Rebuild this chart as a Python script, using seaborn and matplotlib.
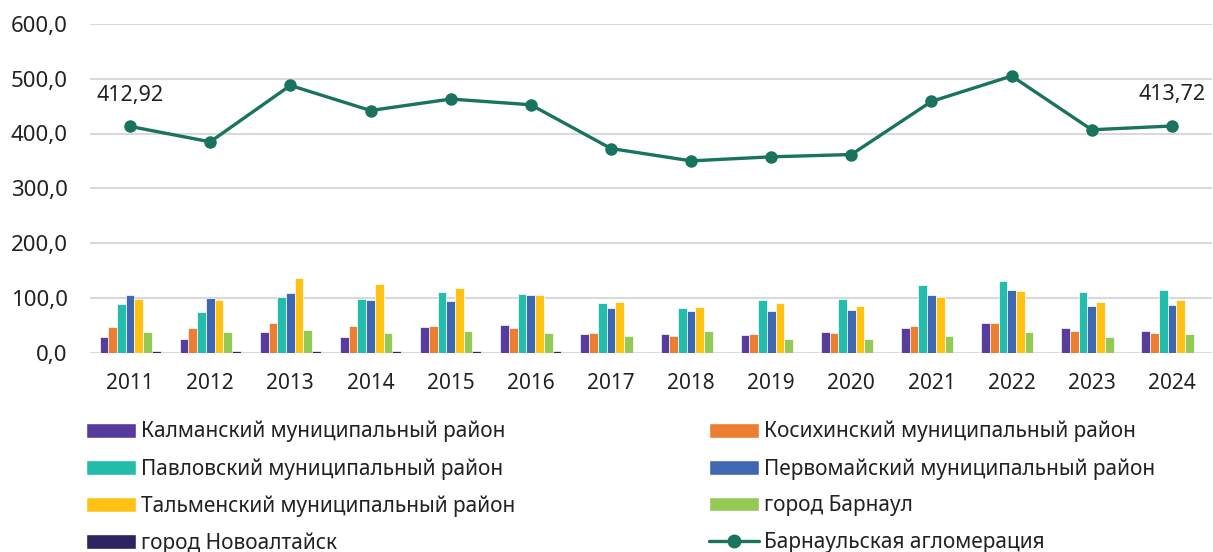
import pandas as pd
import matplotlib.pyplot as plt
import seaborn as sns
import numpy as np
from matplotlib.patches import Patch
from matplotlib.lines import Line2D

sns.set_theme(style='white')
plt.rcParams['font.family'] = ['Noto Sans', 'DejaVu Sans']

# DATA ----
years = ['2011', '2012', '2013', '2014', '2015', '2016', '2017',
         '2018', '2019', '2020', '2021', '2022', '2023', '2024']

kalmansky = [28, 25, 37, 29, 47, 50, 34, 33, 32, 37, 44, 53, 44, 39]
kosikhinsky = [46, 45, 54, 48, 49, 45, 36, 31, 33, 36, 49, 53, 40, 35]
pavlovsky = [88, 74, 101, 98, 110, 106, 90, 81, 95, 97, 123, 131, 110, 115]
pervomaisky = [105, 99, 109, 95, 94, 105, 82, 76, 75, 77, 105, 114, 85, 87]
talmensky = [98, 96, 136, 126, 117, 105, 92, 83, 91, 85, 101, 112, 92, 96]
barnaul = [38, 37, 41, 36, 40, 36, 31, 39, 24, 25, 31, 37, 29, 33]
novoaltaysk = [2, 3, 3, 3, 2, 2, 1, 1, 0.8, 0.5, 1.2, 1.2, 1.2, 1.2]

agglomeration = [412.92, 384.8, 487.8, 442.0, 462.9, 452.5, 372.6,
                 350.0, 357.4, 361.6, 458.6, 505.0, 406.8, 413.72]

series_names = ['Калманский муниципальный район', 'Косихинский муниципальный район',
                'Павловский муниципальный район', 'Первомайский муниципальный район',
                'Тальменский муниципальный район', 'город Барнаул', 'город Новоалтайск']
line_name = 'Барнаульская агломерация'

colors = ['#563C9C', '#ED7D31', '#24BCAA', '#4068B2', '#FFC113', '#93C955', '#2F2260']
line_color = '#18735F'

# LONG TABLE FOR SEABORN ----
all_series = [kalmansky, kosikhinsky, pavlovsky, pervomaisky, talmensky, barnaul, novoaltaysk]
frames = [pd.DataFrame({'Год': years, 'Значение': vals, 'Ряд': name})
          for name, vals in zip(series_names, all_series)]
df = pd.concat(frames, ignore_index=True)

# PLOT ----
fig = plt.figure(figsize=(12.13, 5.52), dpi=100)
ax = fig.add_axes([90 / 1213, 1 - 352.5 / 552, 1122 / 1213, 328.5 / 552])

sns.barplot(data=df, x='Год', y='Значение', hue='Ряд', palette=colors,
            saturation=1, width=0.76, gap=0, edgecolor='white', linewidth=0.5,
            legend=False, ax=ax, zorder=3)

sns.lineplot(x=np.arange(len(years)), y=agglomeration, color=line_color,
             linewidth=2.4, marker='o', markersize=9, markeredgewidth=0,
             ax=ax, zorder=5)

for i in (0, len(years) - 1):
    ax.annotate(f'{agglomeration[i]:.2f}'.replace('.', ','), (i, agglomeration[i]),
                xytext=(0, 15), textcoords='offset points', ha='center', va='bottom',
                fontsize=15.5, color='#222222')

ax.set_ylim(0, 600)
ax.set_xlim(-0.5, len(years) - 0.5)
ax.set_yticks(range(0, 601, 100))
ax.set_yticklabels([f'{v:.1f}'.replace('.', ',') for v in range(0, 601, 100)])
ax.yaxis.grid(True, color='#D9D9D9', linewidth=1.5, zorder=0)
ax.set_axisbelow(True)
for s in ax.spines.values():
    s.set_visible(False)
ax.tick_params(axis='y', length=0, pad=16, labelsize=16, labelcolor='#222222')
ax.tick_params(axis='x', length=0, pad=15, labelsize=15, labelcolor='#222222')
ax.set_xlabel('')
ax.set_ylabel('')

# LEGEND ----
patches = [Patch(facecolor=c, label=n) for c, n in zip(colors, series_names)]
line_handle = Line2D([0], [0], color=line_color, linewidth=2.4, marker='o',
                     markersize=9, label=line_name)

left_handles = [patches[0], patches[2], patches[4], patches[6]]
right_handles = [patches[1], patches[3], patches[5], line_handle]

common = dict(frameon=False, fontsize=15, handlelength=2.4, handleheight=0.7,
              handletextpad=0.25, labelspacing=0.75, borderpad=0, borderaxespad=0,
              loc='upper left', labelcolor='#222222')
fig.legend(handles=left_handles, bbox_to_anchor=(86 / 1213, 1 - 421 / 552), **common)
fig.legend(handles=right_handles, bbox_to_anchor=(709 / 1213, 1 - 421 / 552), **common)

fig.savefig('out.png', dpi=100)
